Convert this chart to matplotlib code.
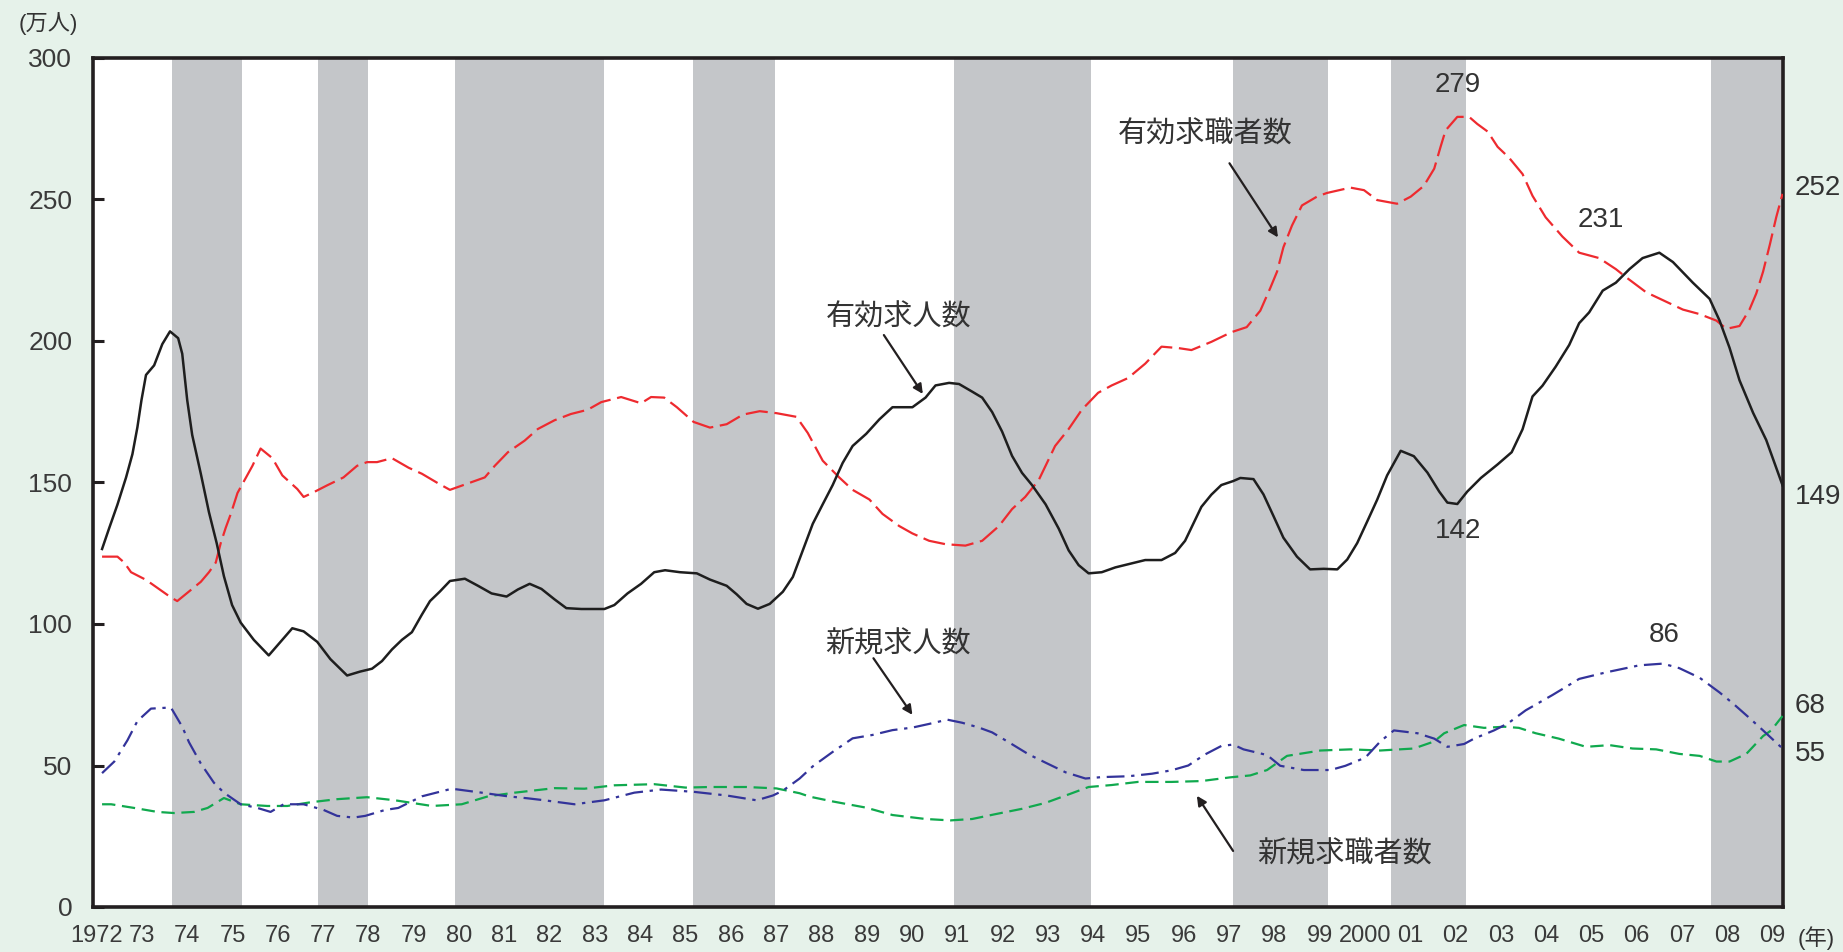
import matplotlib
matplotlib.use("Agg")
import matplotlib.pyplot as plt

plt.rcParams['font.family'] = ['Liberation Sans', 'Noto Sans CJK JP']

# 有効求人数 (solid black)
offer_years = [1972.12, 1972.28, 1972.46, 1972.65, 1972.79, 1972.90, 1972.99, 1973.09, 1973.27, 1973.45,
               1973.62, 1973.80, 1973.89, 1974.00, 1974.11, 1974.30, 1974.48, 1974.65, 1974.81, 1974.99,
               1975.18, 1975.47, 1975.80, 1976.06, 1976.32, 1976.57, 1976.87, 1977.16, 1977.53, 1977.82,
               1978.08, 1978.30, 1978.52, 1978.74, 1978.96, 1979.18, 1979.36, 1979.58, 1979.80, 1980.13,
               1980.42, 1980.72, 1981.05, 1981.30, 1981.56, 1981.82, 1982.11, 1982.37, 1982.70, 1983.21,
               1983.43, 1983.72, 1984.02, 1984.31, 1984.55, 1984.88, 1985.25, 1985.54, 1985.91, 1986.13,
               1986.35, 1986.60, 1986.86, 1987.15, 1987.37, 1987.59, 1987.81, 1988.03, 1988.25, 1988.47,
               1988.69, 1988.99, 1989.28, 1989.57, 1990.01, 1990.30, 1990.52, 1990.82, 1991.04, 1991.33,
               1991.55, 1991.77, 1991.99, 1992.21, 1992.43, 1992.65, 1992.95, 1993.24, 1993.46, 1993.68,
               1993.90, 1994.19, 1994.49, 1994.85, 1995.15, 1995.51, 1995.81, 1996.03, 1996.21, 1996.39,
               1996.61, 1996.83, 1997.09, 1997.25, 1997.54, 1997.76, 1997.98, 1998.20, 1998.50, 1998.79,
               1999.09, 1999.39, 1999.61, 1999.83, 2000.05, 2000.27, 2000.49, 2000.79, 2001.08, 2001.38,
               2001.64, 2001.82, 2002.04, 2002.26, 2002.56, 2002.93, 2003.24, 2003.48, 2003.70, 2003.92,
               2004.21, 2004.51, 2004.73, 2004.95, 2005.25, 2005.54, 2005.84, 2006.13, 2006.50, 2006.80,
               2007.24, 2007.61, 2007.83, 2008.05, 2008.27, 2008.57, 2008.86, 2009.22]
offer_vals = [126.5, 134.0, 142.2, 151.8, 160.0, 169.5, 179.1, 188.0, 191.4, 198.9,
              203.4, 201.0, 195.5, 179.1, 166.8, 153.1, 139.5, 128.6, 116.9, 106.7,
              100.5, 94.4, 88.9, 93.7, 98.5, 97.4, 93.7, 87.6, 81.8, 83.2,
              84.2, 86.9, 91.0, 94.4, 97.1, 103.3, 108.1, 111.5, 115.2, 116.0,
              113.5, 110.8, 109.7, 112.2, 114.2, 112.4, 108.7, 105.6, 105.3, 105.3,
              106.7, 110.8, 114.2, 118.3, 119.0, 118.3, 117.9, 115.7, 113.5, 110.5,
              107.1, 105.4, 107.1, 111.4, 116.6, 126.0, 135.4, 142.3, 149.1, 156.9,
              162.9, 167.2, 172.3, 176.6, 176.6, 180.0, 184.3, 185.2, 184.8, 182.1,
              180.0, 174.9, 168.0, 159.4, 153.4, 149.1, 142.3, 133.7, 126.0, 120.8,
              117.9, 118.3, 120.0, 121.4, 122.6, 122.6, 125.1, 129.4, 135.4, 141.4,
              145.7, 149.1, 150.5, 151.6, 151.2, 145.8, 138.2, 130.5, 123.8, 119.3,
              119.5, 119.3, 122.8, 128.6, 136.2, 143.9, 152.5, 161.2, 159.3, 153.5,
              146.8, 142.9, 142.4, 146.8, 151.6, 156.4, 160.7, 168.8, 180.4, 184.2,
              190.9, 198.6, 206.3, 210.1, 217.8, 220.6, 225.4, 229.3, 231.2, 227.9,
              220.6, 214.9, 207.2, 197.6, 186.1, 174.6, 165.0, 149.0]

# 有効求職者数 (red dashed)
seeker_years = [1972.12, 1972.46, 1972.61, 1972.76, 1973.09, 1973.34, 1973.64, 1973.78, 1974.04, 1974.30,
                1974.48, 1974.63, 1974.74, 1974.85, 1974.96, 1975.11, 1975.25, 1975.44, 1975.62, 1975.88,
                1976.10, 1976.43, 1976.57, 1976.76, 1977.09, 1977.45, 1977.75, 1977.97, 1978.19, 1978.52,
                1978.89, 1979.18, 1979.54, 1979.80, 1980.13, 1980.57, 1980.79, 1981.08, 1981.45, 1981.74,
                1982.11, 1982.47, 1982.84, 1983.14, 1983.58, 1984.02, 1984.24, 1984.53, 1984.81, 1985.18,
                1985.54, 1985.91, 1986.27, 1986.64, 1987.01, 1987.45, 1987.70, 1988.03, 1988.40, 1988.69,
                1989.06, 1989.35, 1989.72, 1990.01, 1990.38, 1990.74, 1991.18, 1991.55, 1991.92, 1992.21,
                1992.50, 1992.80, 1993.16, 1993.46, 1993.75, 1994.11, 1994.41, 1994.77, 1995.15, 1995.51,
                1995.88, 1996.17, 1996.61, 1997.05, 1997.39, 1997.69, 1997.91, 1998.06, 1998.20, 1998.39,
                1998.61, 1998.94, 1999.16, 1999.68, 1999.98, 2000.27, 2000.71, 2001.01, 2001.30, 2001.53,
                2001.67, 2001.78, 2002.04, 2002.30, 2002.48, 2002.71, 2002.93, 2003.18, 2003.48, 2003.70,
                2003.99, 2004.36, 2004.73, 2005.17, 2005.54, 2005.76, 2006.21, 2006.65, 2007.02, 2007.39,
                2007.76, 2007.98, 2008.27, 2008.49, 2008.64, 2008.79, 2008.94, 2009.08, 2009.22]
seeker_vals = [123.8, 123.8, 121.7, 118.3, 115.6, 112.8, 109.4, 108.1, 111.5, 114.9,
               118.3, 121.7, 128.6, 134.0, 138.8, 146.3, 150.4, 155.9, 162.0, 158.6,
               152.5, 147.7, 144.9, 146.3, 149.0, 151.8, 155.9, 157.2, 157.2, 158.6,
               155.2, 153.1, 149.7, 147.4, 149.3, 151.8, 155.9, 160.7, 164.8, 168.9,
               172.0, 174.2, 175.7, 178.4, 180.2, 178.0, 180.2, 180.0, 176.6, 171.4,
               169.4, 170.6, 174.0, 175.2, 174.5, 173.2, 167.5, 157.7, 151.7, 147.4,
               144.0, 138.9, 134.6, 132.0, 129.4, 128.2, 127.7, 129.4, 134.6, 140.6,
               144.9, 150.9, 162.9, 168.9, 175.7, 181.7, 184.3, 186.9, 192.0, 198.0,
               197.5, 196.8, 199.7, 203.1, 204.9, 210.7, 218.7, 224.5, 233.1, 240.8,
               247.9, 251.0, 252.3, 254.2, 253.3, 249.8, 248.5, 251.0, 254.8, 260.9,
               268.6, 274.4, 279.2, 279.2, 276.7, 274.0, 268.6, 264.8, 259.0, 251.3,
               243.7, 236.9, 231.2, 229.3, 225.4, 222.6, 217.2, 213.9, 211.1, 209.5,
               207.2, 204.3, 205.3, 211.1, 216.8, 224.5, 234.1, 243.7, 252.0]

# 新規求人数 (blue dash-dot)
new_offer_years = [1972.12, 1972.39, 1972.68, 1972.90, 1973.20, 1973.64, 1973.89, 1974.04, 1974.30, 1974.59,
                   1974.81, 1975.18, 1975.55, 1975.84, 1976.13, 1976.57, 1977.01, 1977.31, 1977.67, 1977.93,
                   1978.37, 1978.66, 1979.18, 1979.84, 1980.50, 1981.08, 1981.52, 1981.89, 1982.55, 1983.21,
                   1983.87, 1984.46, 1985.18, 1985.91, 1986.57, 1986.93, 1987.15, 1987.52, 1987.81, 1988.25,
                   1988.69, 1989.13, 1989.57, 1990.01, 1990.38, 1990.78, 1991.11, 1991.48, 1991.77, 1992.17,
                   1992.58, 1992.95, 1993.39, 1993.83, 1994.19, 1994.78, 1995.30, 1995.73, 1996.10, 1996.47,
                   1996.83, 1997.09, 1997.32, 1997.84, 1998.13, 1998.65, 1999.24, 1999.57, 2000.01, 2000.34,
                   2000.64, 2001.16, 2001.53, 2001.82, 2002.19, 2002.41, 2002.85, 2003.16, 2003.55, 2004.14,
                   2004.73, 2005.32, 2006.06, 2006.58, 2006.94, 2007.39, 2007.83, 2008.12, 2008.46, 2008.79,
                   2009.22]
new_offer_vals = [47.3, 51.4, 58.9, 65.7, 70.1, 70.5, 63.7, 58.2, 50.7, 43.9,
                  40.4, 36.3, 35.0, 33.6, 36.3, 36.3, 34.3, 32.2, 31.6, 32.2,
                  34.3, 35.0, 39.1, 41.8, 40.4, 39.1, 38.4, 37.7, 36.3, 37.7,
                  40.4, 41.5, 40.7, 39.4, 37.7, 39.4, 41.1, 45.4, 49.7, 54.8,
                  59.6, 60.8, 62.5, 63.4, 64.7, 66.2, 65.1, 63.4, 61.7, 57.9,
                  53.9, 51.0, 47.6, 45.4, 45.9, 46.2, 47.1, 48.3, 50.0, 53.9,
                  56.9, 57.4, 55.7, 53.7, 49.9, 48.4, 48.4, 49.9, 52.8, 58.5,
                  62.4, 61.4, 59.5, 56.6, 57.6, 59.5, 62.4, 64.9, 69.5, 74.9,
                  80.6, 82.9, 85.4, 86.0, 84.4, 81.0, 75.8, 72.0, 67.2, 62.4,
                  56.0]

# 新規求職者数 (green dashed)
new_seeker_years = [1972.12, 1972.32, 1972.83, 1973.34, 1973.71, 1974.15, 1974.45, 1974.81, 1975.18, 1975.77,
                    1976.21, 1976.72, 1977.31, 1977.97, 1978.59, 1979.40, 1980.06, 1980.64, 1981.23, 1982.11,
                    1982.77, 1983.43, 1984.31, 1985.00, 1985.54, 1986.35, 1987.01, 1987.52, 1987.74, 1988.25,
                    1988.99, 1989.57, 1990.30, 1990.85, 1991.33, 1991.84, 1992.43, 1992.95, 1993.53, 1993.90,
                    1994.41, 1994.99, 1995.73, 1996.39, 1997.02, 1997.47, 1997.84, 1998.28, 1999.02, 1999.68,
                    2000.34, 2001.08, 2001.53, 2001.75, 2002.19, 2002.63, 2003.08, 2003.40, 2003.77, 2004.28,
                    2004.88, 2005.40, 2005.91, 2006.43, 2006.94, 2007.39, 2007.76, 2008.05, 2008.42, 2008.79,
                    2008.97, 2009.22]
new_seeker_vals = [36.3, 36.3, 35.0, 33.6, 33.2, 33.6, 35.0, 38.5, 36.3, 35.7,
                   35.7, 37.0, 38.1, 38.8, 37.7, 35.7, 36.3, 39.1, 40.4, 42.0,
                   41.8, 43.0, 43.4, 42.2, 42.4, 42.4, 41.9, 40.2, 39.0, 37.3,
                   35.1, 32.5, 31.1, 30.6, 31.1, 32.8, 34.7, 36.8, 40.2, 42.4,
                   43.1, 44.2, 44.2, 44.5, 45.8, 46.5, 48.4, 53.4, 55.3, 55.7,
                   55.3, 56.0, 58.5, 61.4, 64.3, 63.3, 63.7, 63.3, 61.4, 59.5,
                   56.6, 57.2, 56.0, 55.7, 54.1, 53.4, 51.4, 51.4, 54.1, 60.4,
                   62.4, 67.5]

# recession shading (start, end)
recessions = [(1973.66, 1975.22), (1976.88, 1977.99), (1979.91, 1983.21), (1985.16, 1986.97),
              (1990.92, 1993.95), (1997.09, 1999.19), (2000.57, 2002.23), (2007.63, 2009.30)]

year_ticks = list(range(1972, 2010))
year_labels = ['1972'] + [str(y)[2:] for y in range(1973, 2000)] + ['2000'] + [str(y)[2:] for y in range(2001, 2010)]

end_labels = ['252', '149', '68', '55']
end_label_vals = [254, 145, 71, 54]

bg = '#e6f2ea'
ink = '#231f20'

fig = plt.figure(figsize=(18.43, 9.52), dpi=100, facecolor=bg)
ax = fig.add_axes([93 / 1843, 1 - 907 / 952, 1690 / 1843, 849 / 952])
ax.set_facecolor('white')

for s, e in recessions:
    ax.axvspan(s, e, color='#c4c6c9', lw=0, zorder=0)

ax.plot(seeker_years, seeker_vals, color='#ee2a2f', lw=1.6, dashes=(10, 3), zorder=3)
ax.plot(offer_years, offer_vals, color='#1e1e1e', lw=1.8, zorder=4, solid_joinstyle='round')
ax.plot(new_seeker_years, new_seeker_vals, color='#10a94e', lw=1.6, dashes=(6, 3), zorder=3)
ax.plot(new_offer_years, new_offer_vals, color='#33339a', lw=1.6, dashes=(8, 3, 1.5, 3), zorder=3)

ax.set_xlim(1971.92, 2009.23)
ax.set_ylim(0, 300)
ax.set_yticks(range(0, 301, 50))
ax.set_xticks(year_ticks)
ax.set_xticklabels(year_labels)
ax.tick_params(axis='y', direction='in', length=8, width=2.2, color=ink, pad=15,
               labelsize=19, labelcolor='#3a3a3a')
ax.tick_params(axis='x', length=0, pad=13, labelsize=17, labelcolor='#3a3a3a')
for sp in ax.spines.values():
    sp.set_linewidth(2.6)
    sp.set_color(ink)

arrow = dict(arrowstyle='-|>', color=ink, lw=1.6, mutation_scale=14, shrinkA=0, shrinkB=0)
jp = dict(fontsize=21, color='#333333', ha='center', va='center')

ax.text(1996.47, 272.8, '有効求職者数', **jp)
ax.annotate('', xy=(1998.08, 236.6), xytext=(1997.01, 262.8), arrowprops=arrow)
ax.text(1989.70, 208.3, '有効求人数', **jp)
ax.annotate('', xy=(1990.24, 181.3), xytext=(1989.38, 202.1), arrowprops=arrow)
ax.text(1989.70, 92.8, '新規求人数', **jp)
ax.annotate('', xy=(1990.01, 67.9), xytext=(1989.15, 87.9), arrowprops=arrow)
ax.text(1999.55, 18.5, '新規求職者数', **jp)
ax.annotate('', xy=(1996.29, 39.3), xytext=(1997.09, 19.8), arrowprops=arrow)

num = dict(fontsize=20, color='#333333', ha='center', va='center')
ax.text(2002.05, 290.6, '279', **num)
ax.text(2005.21, 242.9, '231', **num)
ax.text(2002.05, 132.8, '142', **num)
ax.text(2006.61, 96.2, '86', **num)

for lab, v in zip(end_labels, end_label_vals):
    ax.text(1.007, v, lab, transform=ax.get_yaxis_transform(), fontsize=20,
            color='#333333', ha='left', va='center', clip_on=False)

fig.text(48 / 1843, 1 - 24 / 952, '(万人)', fontsize=16, color='#333333', ha='center', va='center')
fig.text(1816 / 1843, 1 - 938 / 952, '(年)', fontsize=16, color='#333333', ha='center', va='center')

fig.savefig('out.png', dpi=100, facecolor=bg)
